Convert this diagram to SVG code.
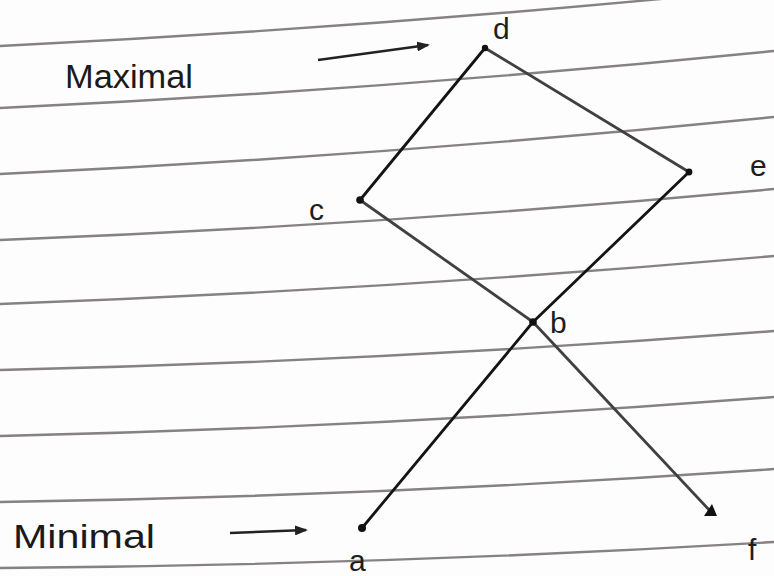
<svg xmlns="http://www.w3.org/2000/svg" width="774" height="576" viewBox="0 0 774 576">
<style>
.rule{fill:none;stroke:#858184;stroke-width:2.4}
.edge{fill:none;stroke:#141414;stroke-width:2.8;stroke-linecap:round}
.soft{stroke:#404040}
.dot{fill:#111}
.lbl{font-family:"Liberation Sans",sans-serif;font-size:30px;fill:#1e1e1e}
.note{font-family:"Liberation Sans",sans-serif;font-size:33px;fill:#1a1a1a}
.arr{stroke:#222;stroke-width:2.4;fill:none;marker-end:url(#ah)}
</style>
<defs>
<marker id="ah" markerWidth="13" markerHeight="10" refX="11" refY="5" orient="auto" markerUnits="userSpaceOnUse">
<path d="M0,0 L13,5 L0,10 z" fill="#222"/>
</marker>
</defs>
<rect width="774" height="576" fill="#fdfdfd"/>
<g id="paper-lines">
<path class="rule" d="M0,46 Q387,27 774,-12"/>
<path class="rule" d="M0,108 Q387,90 774,51"/>
<path class="rule" d="M0,174 Q387,156 774,117"/>
<path class="rule" d="M0,240 Q387,225 774,189"/>
<path class="rule" d="M0,304 Q387,290 774,256"/>
<path class="rule" d="M0,370 Q387,361 774,331"/>
<path class="rule" d="M0,436 Q387,427 774,397"/>
<path class="rule" d="M0,502 Q387,496 774,469"/>
<path class="rule" d="M0,568 Q387,565 774,542"/>
</g>
<g id="connectors">
<line class="edge" x1="485" y1="48" x2="360" y2="200"/>
<line class="edge soft" x1="485" y1="48" x2="689" y2="172"/>
<line class="edge soft" x1="360" y1="200" x2="533" y2="322"/>
<line class="edge soft" x1="533" y1="322" x2="712" y2="513"/>
<line class="edge" x1="362" y1="528" x2="533" y2="322"/>
<line class="edge" x1="533" y1="322" x2="689" y2="172"/>
</g>
<g id="node-d"><circle class="dot" cx="485" cy="48" r="3.2"/><text class="lbl" x="493" y="39">d</text></g>
<g id="node-e"><circle class="dot" cx="689" cy="172" r="3.4"/><text class="lbl" x="750" y="176" font-size="32">e</text></g>
<g id="node-c"><circle class="dot" cx="360" cy="200" r="3.8"/><text class="lbl" x="309" y="220">c</text></g>
<g id="node-b"><circle class="dot" cx="533" cy="322" r="3.8"/><text class="lbl" x="550" y="333">b</text></g>
<g id="node-a"><circle class="dot" cx="362" cy="528" r="4"/><text class="lbl" x="349" y="571">a</text></g>
<g id="node-f"><path class="dot" d="M704,516 L712,504 L717,516 z"/><text class="lbl" x="748" y="560" font-size="32">f</text></g>
<g id="annotations">
<text class="note" x="65" y="88" textLength="128" lengthAdjust="spacingAndGlyphs">Maximal</text>
<line class="arr" x1="318" y1="60" x2="428" y2="45"/>
<text class="note" x="13" y="548" textLength="142" lengthAdjust="spacingAndGlyphs">Minimal</text>
<line class="arr" x1="230" y1="533" x2="306" y2="530"/>
</g>
</svg>
